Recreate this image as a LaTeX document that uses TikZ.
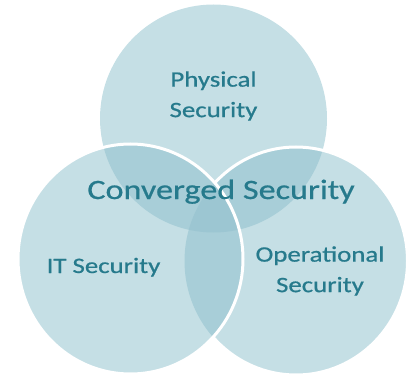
\documentclass[tikz,border=0pt]{standalone}
\usepackage{fontspec}
\newfontfamily\vennfont[FakeStretch=1.22,FakeBold=0.7]{Carlito}
\definecolor{vbase}{RGB}{197,223,229}
\definecolor{vpair}{RGB}{168,206,216}
\definecolor{vtriple}{RGB}{156,198,210}
\definecolor{vtext}{RGB}{38,122,140}
\begin{document}
\begin{tikzpicture}[x=1pt,y=-1pt,
  lbl/.style={text=vtext,font=\vennfont\fontsize{22}{30.5}\selectfont,align=center,inner sep=0pt},
  biglbl/.style={text=vtext,font=\vennfont\fontsize{28}{32}\selectfont,inner sep=0pt},
  rim/.style={draw=white,line width=3pt}]
\useasboundingbox (0,0) rectangle (409,374);
\def\Tc{(213.5,118.5) ellipse [x radius=113.5pt,y radius=114pt]}
\def\Rc{(296,261) ellipse [x radius=111.5pt,y radius=114pt]}
\def\Lc{(130.5,259) ellipse [x radius=112.5pt,y radius=115pt]}
% top and right circles
\fill[vbase] \Tc;
\fill[vbase] \Rc;
\begin{scope}
  \clip \Tc;
  \fill[vpair] \Rc;
\end{scope}
\draw[rim] \Rc;
% left circle on top
\fill[vbase] \Lc;
\begin{scope}
  \clip \Lc;
  \fill[vpair] \Tc;
  \fill[vpair] \Rc;
  \clip \Tc;
  \fill[vtriple] \Rc;
\end{scope}
\draw[rim] \Lc;
% labels
\node[lbl] (phys) at (213.5,96) {Physical\\Security};
\node[lbl,anchor=base] (it) at (103.5,273) {IT Security};
\node[lbl] (oper) at (320,271) {Operational\\Security};
\node[biglbl,anchor=base] (conv) at (221,199) {Converged Security};
\end{tikzpicture}
\end{document}
